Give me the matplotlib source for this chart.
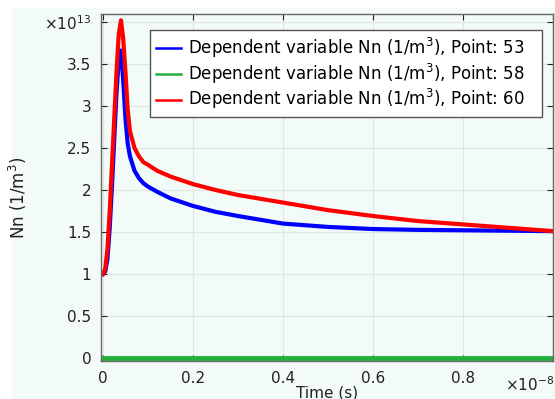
import numpy as np
import matplotlib
matplotlib.use('Agg')
import matplotlib.pyplot as plt
from matplotlib.ticker import FuncFormatter, MultipleLocator
from matplotlib.patches import Rectangle

# time in units of 1e-8 s, Nn in units of 1e13 1/m^3
time_s = [0, 0.005, 0.01, 0.015, 0.02, 0.025, 0.03, 0.035, 0.04, 0.045, 0.05,
          0.055, 0.06, 0.07, 0.08, 0.09, 0.1, 0.12, 0.15, 0.2, 0.25, 0.3,
          0.4, 0.5, 0.6, 0.7, 0.8, 0.9, 1.0]
nn_pt53 = [1.0, 1.03, 1.18, 1.55, 2.05, 2.6, 3.15, 3.55, 3.66, 3.3, 2.85,
           2.55, 2.4, 2.23, 2.14, 2.08, 2.04, 1.98, 1.9, 1.81, 1.74, 1.69,
           1.6, 1.56, 1.535, 1.525, 1.52, 1.515, 1.51]
nn_pt58 = [0.0] * len(time_s)
nn_pt60 = [1.0, 1.06, 1.3, 1.75, 2.3, 2.85, 3.4, 3.85, 4.02, 3.8, 3.4,
           2.95, 2.7, 2.5, 2.4, 2.33, 2.3, 2.23, 2.16, 2.07, 2.0, 1.94,
           1.85, 1.76, 1.69, 1.63, 1.59, 1.55, 1.51]

labels = ['Dependent variable Nn (1/m$^3$), Point: 53',
          'Dependent variable Nn (1/m$^3$), Point: 58',
          'Dependent variable Nn (1/m$^3$), Point: 60']

t = np.array(time_s) * 1e-8
bg = '#f2fbf7'

fig = plt.figure(figsize=(5.55, 3.99), dpi=100, facecolor=bg)
fig.patches.append(Rectangle((0, 0), 12 / 555, 1, transform=fig.transFigure,
                             facecolor='white', edgecolor='none', zorder=-1))
fig.patches.append(Rectangle((0, 1 - 8 / 399), 1, 8 / 399, transform=fig.transFigure,
                             facecolor='white', edgecolor='none', zorder=-1))

ax = fig.add_axes([101 / 555, 38 / 399, 452 / 555, 347 / 399], facecolor=bg)

# trailing spaces leave the extra room right of the text, as in the original box
ax.plot(t, np.array(nn_pt53) * 1e13, color='#0000ff', lw=3, label=labels[0] + '   ')
ax.plot(t, np.array(nn_pt58) * 1e13, color='#22b03a', lw=3.5, label=labels[1] + '   ')
ax.plot(t, np.array(nn_pt60) * 1e13, color='#ff0000', lw=3, label=labels[2] + '   ')

ax.set_xlim(-0.0044e-8, 1.0e-8)
ax.set_ylim(-0.036e13, 4.095e13)
ax.xaxis.set_major_locator(MultipleLocator(0.2e-8))
ax.yaxis.set_major_locator(MultipleLocator(0.5e13))


def xfmt(v, pos):
    if abs(v - 1e-8) < 1e-12:
        return ''
    return f'{v / 1e-8:g}'


def yfmt(v, pos):
    if abs(v - 4e13) < 1e9:
        return '×10$^{13}$'
    return f'{v / 1e13:g}'


ax.xaxis.set_major_formatter(FuncFormatter(xfmt))
ax.yaxis.set_major_formatter(FuncFormatter(yfmt))
ax.tick_params(direction='in', length=4, width=0.8, top=True, right=True,
               labelsize=11, colors='#222222', pad=7)
ax.annotate('×10$^{-8}$', xy=(1.0, 0), xycoords='axes fraction',
            xytext=(-17, -17), textcoords='offset points',
            ha='center', va='center', fontsize=11, color='#222222')

ax.grid(True, color='#dfe6e3', lw=0.8)
ax.set_axisbelow(True)
for s in ax.spines.values():
    s.set_color('#666666')
    s.set_linewidth(1)

ax.set_xlabel('Time (s)', fontsize=11, color='#222222')
ax.xaxis.set_label_coords(0.5, -0.07)
ax.set_ylabel('Nn (1/m$^3$)', fontsize=12, color='#222222')
ax.yaxis.set_label_coords(-0.16, 0.47)

leg = ax.legend(loc='upper right', bbox_to_anchor=(0.9757, 0.954), fontsize=12,
                fancybox=False, framealpha=1, edgecolor='#555555',
                handlelength=1.5, handletextpad=0.4, labelspacing=0.1,
                borderaxespad=0, borderpad=0.35)
leg.get_frame().set_linewidth(1)
for h in leg.get_lines():
    h.set_linewidth(1.8)

fig.savefig('out.png', dpi=100, facecolor=fig.get_facecolor())
